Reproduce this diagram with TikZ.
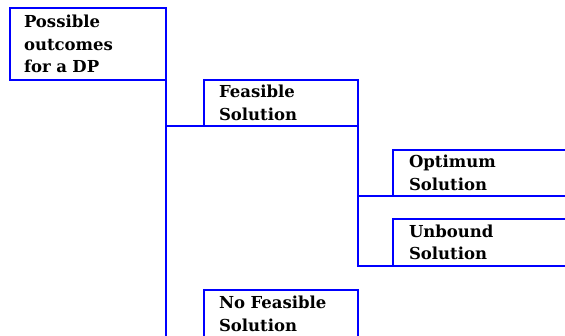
\documentclass[tikz,border=0pt]{standalone}
\usepackage{fontspec}
\setmainfont{DejaVu Serif}
\usepackage{xcolor}

\begin{document}
\begin{tikzpicture}[x=1pt,y=-1pt,line width=2pt,
		outcome/.style={draw=blue,rectangle,anchor=north west,align=left,inner ysep=0pt,outer sep=0pt,
			font=\bfseries\fontsize{16.5}{22.5}\selectfont},
		link/.style={draw=blue}]
			\clip (0,0) rectangle (565,336);
			\node[outcome,inner xsep=14pt,text width=128pt,minimum height=72pt] (dp) at (10,8) {Possible\\outcomes\\for a DP};
			\node[outcome,inner xsep=15pt,text width=124pt,minimum height=46pt] (feas) at (204,80) {Feasible\\Solution};
			\node[outcome,inner xsep=16pt,text width=148pt,minimum height=46pt] (opt) at (393,150) {Optimum\\Solution};
			\node[outcome,inner xsep=16pt,text width=148pt,minimum height=47pt] (unb) at (393,219) {Unbound\\Solution};
			\node[outcome,inner xsep=15pt,text width=124pt,minimum height=48pt] (nofeas) at (204,290) {No Feasible\\Solution};
			\path (dp.south east) ++(0,262) coordinate (trunkend);
			\draw[link] (dp.south east) -- (trunkend);
			\draw[link] (dp.south east |- feas.south) -- (feas.south west);
			\draw[link] (feas.south east) |- (unb.south west);
			\draw[link] (feas.south east |- opt.south) -- (opt.south west);
\end{tikzpicture}
\end{document}
